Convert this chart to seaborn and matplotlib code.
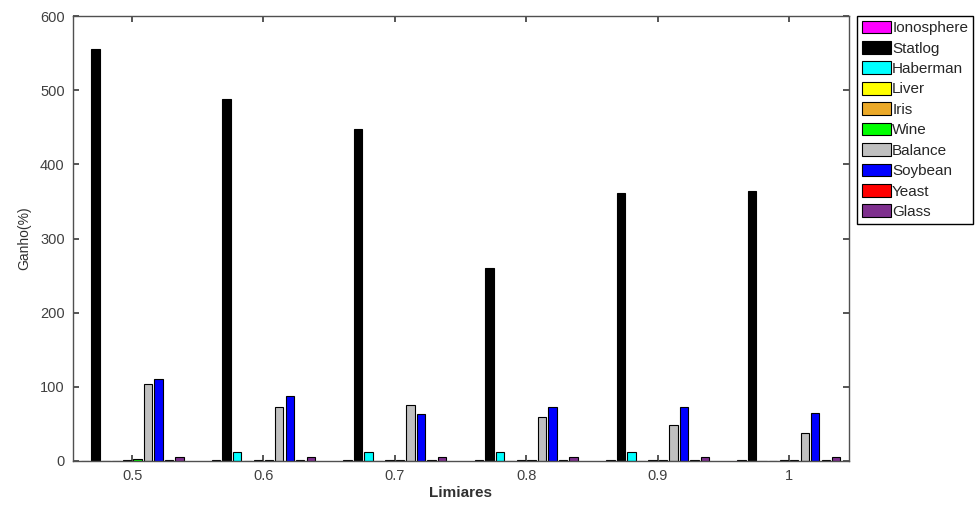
import matplotlib
matplotlib.use("Agg")
import matplotlib.pyplot as plt
import seaborn as sns
import pandas as pd

thresholds = ["0.5", "0.6", "0.7", "0.8", "0.9", "1"]
datasets = ["Ionosphere", "Statlog", "Haberman", "Liver", "Iris", "Wine",
            "Balance", "Soybean", "Yeast", "Glass"]
colors = ["#FF00FF", "#000000", "#00FFFF", "#FFFF00", "#EBA928", "#00FF00",
          "#C0C0C0", "#0000FF", "#FF0000", "#7E2F8E"]

ionosphere = [0.5, 1, 1, 1, 1, 1]
statlog = [555, 488, 447, 260, 361, 364]
haberman = [0, 12, 12, 12, 12, 0]
liver = [0.5, 0.5, 0.5, 0.5, 0.5, 0.5]
iris = [1, 1, 1, 1, 1, 1]
wine = [3, 2, 2, 2, 2, 2]
balance = [104, 73, 75, 59, 48, 38]
soybean = [110, 88, 63, 73, 73, 65]
yeast = [2, 2, 2, 2, 2, 2]
glass = [5, 6, 5, 6, 6, 6]

series = [ionosphere, statlog, haberman, liver, iris, wine,
          balance, soybean, yeast, glass]

rows = []
for name, vals in zip(datasets, series):
    for t, v in zip(thresholds, vals):
        rows.append({"Limiares": t, "Ganho": v, "Dataset": name})
df = pd.DataFrame(rows)

sns.set_theme(style="white")
plt.rcParams["font.family"] = ["Liberation Sans", "DejaVu Sans"]

fig = plt.figure(figsize=(9.77, 5.15), dpi=100)
ax = fig.add_axes([73/977, 1-461/515, (849-73)/977, (461-16)/515])

sns.barplot(data=df, x="Limiares", y="Ganho", hue="Dataset",
            order=thresholds, hue_order=datasets, palette=colors,
            saturation=1, width=0.8, gap=0.2, edgecolor="black", linewidth=0.8,
            errorbar=None, ax=ax, legend=True)

ax.set_xlim(-0.45, 5.457)
ax.set_ylim(0, 600)
ax.set_yticks([0, 100, 200, 300, 400, 500, 600])
ax.tick_params(direction="in", length=4, color="#404040", labelcolor="#404040",
               labelsize=10.5, top=True, right=True, bottom=True, left=True, pad=6)
for s in ax.spines.values():
    s.set_color("#505050")
    s.set_linewidth(1.0)
ax.set_xlabel("Limiares", fontsize=11, fontweight="bold", color="#303030", labelpad=2)
ax.set_ylabel("Ganho(%)", fontsize=10, color="#303030", labelpad=6)

handles, labels = ax.get_legend_handles_labels()
ax.get_legend().remove()
leg = fig.legend(handles, labels, loc="upper left",
                 bbox_to_anchor=(857/977, 1-16/515), bbox_transform=fig.transFigure,
                 frameon=True, fancybox=False, edgecolor="black", framealpha=1,
                 fontsize=11, handlelength=1.9, handleheight=0.9,
                 handletextpad=0.1, labelspacing=0.38, borderpad=0.3,
                 borderaxespad=0)
leg.get_frame().set_linewidth(1.0)

fig.savefig("out.png", dpi=100)
